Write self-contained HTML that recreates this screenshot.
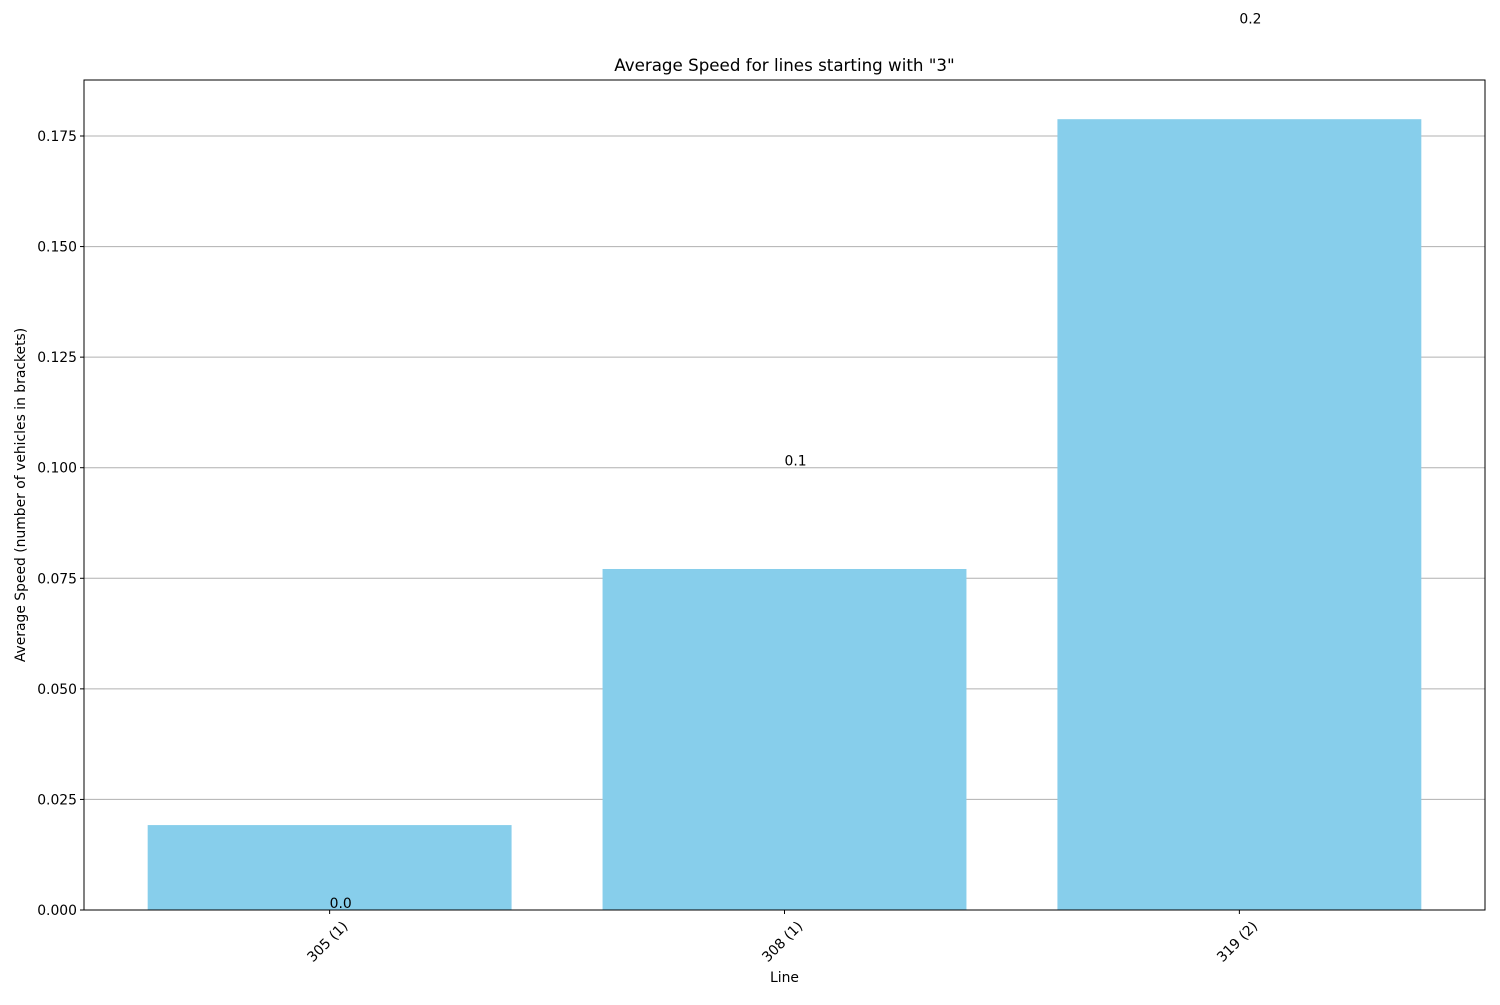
<!DOCTYPE html>
<html><head><meta charset="utf-8"><style>
body{margin:0;background:#fff;}
svg text{font-family:"DejaVu Sans","Liberation Sans",sans-serif;}
</style></head><body>
<svg id="chart" width="1500" height="1000" viewBox="0 0 1500 1000"></svg>
<script>
const categories = ["305 (1)", "308 (1)", "319 (2)"];
const speeds = [0.0192, 0.0771, 0.1788];
const yTicks = [0, 0.025, 0.05, 0.075, 0.1, 0.125, 0.15, 0.175];
const yTickLabels = ["0.000","0.025","0.050","0.075","0.100","0.125","0.150","0.175"];

const L=84,R=1485,T=80,B=910;
const yMax=0.18766, xMin=-0.54, xMax=2.54;
const ys=v=>B-(v/yMax)*(B-T);
const xs=v=>L+(v-xMin)/(xMax-xMin)*(R-L);
const NS="http://www.w3.org/2000/svg";
const svg=document.getElementById('chart');
function mk(tag,attrs,parent){const e=document.createElementNS(NS,tag);for(const k in attrs)e.setAttribute(k,attrs[k]);(parent||svg).appendChild(e);return e;}
const FS=13.9;

yTicks.forEach((t,i)=>{
  const g=mk('line',{x1:L,x2:R,y1:ys(t),y2:ys(t),stroke:'#b0b0b0','stroke-width':1});
  
  
  const tk=mk('line',{x1:L-4,x2:L,y1:ys(t),y2:ys(t),stroke:'#000','stroke-width':1});
  
  
  const lb=mk('text',{x:L-7,y:ys(t)+5,'text-anchor':'end','font-size':FS,fill:'#000'});
  lb.textContent=yTickLabels[i];
  
  
});
categories.forEach((c,i)=>{
  const w=xs(0.4)-xs(0);
  const b=mk('rect',{x:xs(i)-w,y:ys(speeds[i]),width:2*w,height:B-ys(speeds[i]),fill:'#87ceeb'});
  
  
  const r=Math.round(speeds[i]*10)/10;
  const v=mk('text',{x:xs(i),y:ys(r)-2,'text-anchor':'start','font-size':FS,fill:'#000'});
  v.textContent=r.toFixed(1);
  
  
  const tk=mk('line',{x1:xs(i),x2:xs(i),y1:B,y2:B+4,stroke:'#000','stroke-width':1});
  
  
  const ax=xs(i)+19, ay=B+17;
  const xl=mk('text',{x:ax,y:ay,'text-anchor':'end','font-size':FS,fill:'#000',transform:`rotate(-45 ${ax} ${ay})`});
  xl.textContent=c;
  
  
});
const fr=mk('rect',{x:L,y:T,width:R-L,height:B-T,fill:'none',stroke:'#000','stroke-width':1});


const ti=mk('text',{x:(L+R)/2,y:71,'text-anchor':'middle','font-size':16.7,fill:'#000'});
ti.textContent='Average Speed for lines starting with "3"';


const xt=mk('text',{x:(L+R)/2,y:982,'text-anchor':'middle','font-size':FS,fill:'#000'});
xt.textContent='Line';


const yt=mk('text',{x:25,y:(T+B)/2,'text-anchor':'middle','font-size':FS,fill:'#000',transform:`rotate(-90 25 ${(T+B)/2})`});
yt.textContent='Average Speed (number of vehicles in brackets)';


</script>
</body></html>
